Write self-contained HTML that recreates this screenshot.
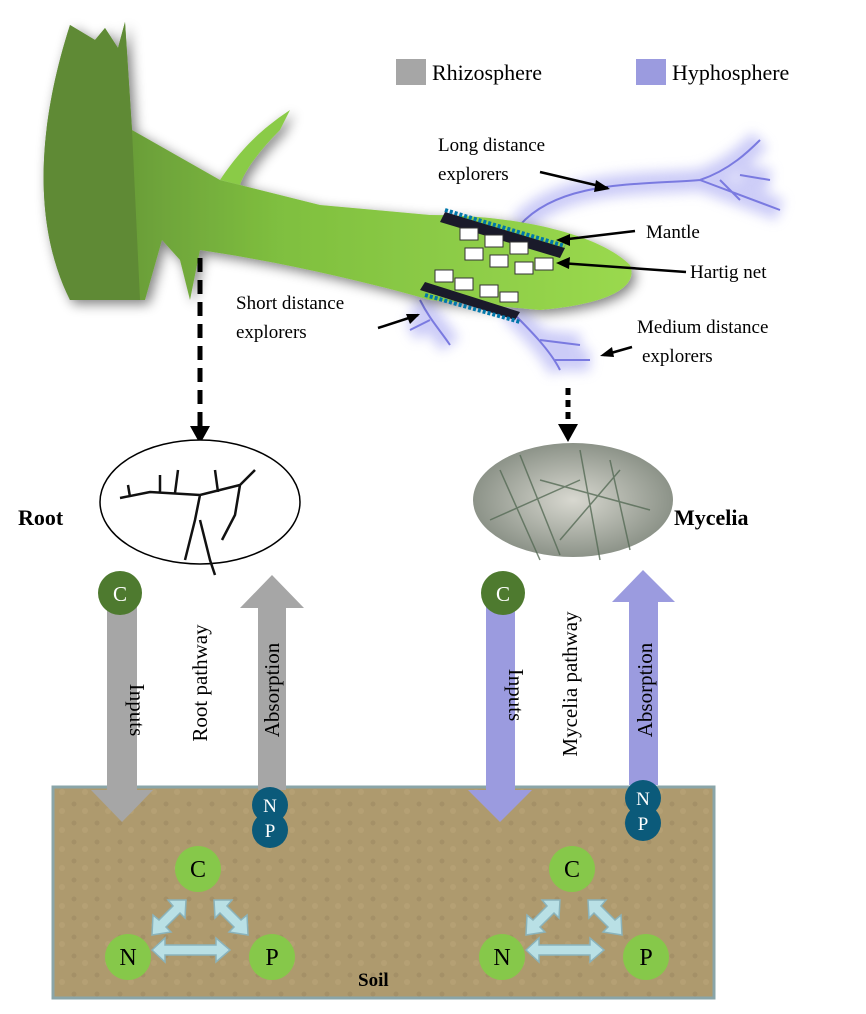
<!DOCTYPE html>
<html><head><meta charset="utf-8"><style>
html,body{margin:0;padding:0;background:#fff;}
svg{display:block}
text{font-family:"Liberation Serif",serif;}
</style></head><body>
<svg width="866" height="1014" viewBox="0 0 866 1014" xmlns="http://www.w3.org/2000/svg">
<defs>
<filter id="sh" x="-20%" y="-20%" width="140%" height="140%"><feGaussianBlur in="SourceAlpha" stdDeviation="6"/><feOffset dx="4" dy="4"/><feComponentTransfer><feFuncA type="linear" slope="0.5"/></feComponentTransfer><feMerge><feMergeNode/><feMergeNode in="SourceGraphic"/></feMerge></filter>
<filter id="glow" x="-20%" y="-20%" width="140%" height="140%"><feGaussianBlur stdDeviation="6"/></filter>
<linearGradient id="rg" x1="0" y1="0" x2="1" y2="0"><stop offset="0" stop-color="#5e8a35"/><stop offset="0.4" stop-color="#7fbf3f"/><stop offset="1" stop-color="#9ad94e"/></linearGradient>
<radialGradient id="my" cx="0.5" cy="0.5" r="0.6"><stop offset="0" stop-color="#d8d8d0"/><stop offset="1" stop-color="#7d857a"/></radialGradient>
<pattern id="soil" width="23" height="19" patternUnits="userSpaceOnUse"><rect width="23" height="19" fill="#ae9a6e"/><circle cx="5" cy="6" r="2.5" fill="#9a8660" opacity=".5"/><circle cx="16" cy="13" r="3" fill="#bba67a" opacity=".5"/></pattern>
</defs>

<!-- Legend -->
<rect x="396" y="59" width="30" height="26" fill="#a6a6a6"/>
<text x="432" y="80" font-size="22">Rhizosphere</text>
<rect x="636" y="59" width="30" height="26" fill="#9b9bdf"/>
<text x="672" y="80" font-size="22">Hyphosphere</text>

<!-- hyphae glow -->
<g stroke="#9a9af0" stroke-width="22" fill="none" opacity="0.5" filter="url(#glow)">
<path d="M520 225 C560 180 640 185 700 180 C730 170 750 150 760 140 M700 180 L780 210 M740 175 L770 180"/>
<path d="M420 300 C430 320 440 330 450 345 M430 320 L410 330"/>
<path d="M510 310 C530 330 550 350 560 370 M540 340 L580 345 M555 360 L590 360"/>
</g>
<g stroke="#7a7ae0" stroke-width="2" fill="none">
<path d="M520 225 C560 180 640 185 700 180 C730 170 750 150 760 140 M700 180 L780 210 M740 175 L770 180 M720 180 L740 200"/>
<path d="M420 300 C430 320 440 330 450 345 M430 320 L410 330"/>
<path d="M510 310 C530 330 550 350 560 370 M540 340 L580 345 M555 360 L590 360"/>
</g>

<!-- plant -->
<g filter="url(#sh)">
<path d="M70 25 L95 40 L105 28 L118 48 L125 22 L132 130 L220 180 L320 205 L430 215 C520 215 600 235 630 265 C640 290 600 305 540 310 L430 300 C360 280 280 262 200 250 L190 300 L180 260 L162 240 L145 300 L70 300 C40 240 30 150 70 25 Z" fill="url(#rg)"/>
<path d="M70 25 L95 40 L105 28 L118 48 L125 22 L132 130 L140 300 L70 300 C40 240 30 150 70 25 Z" fill="#5e8a35"/>
<path d="M220 180 C240 150 260 130 290 110 L280 130 C260 150 245 170 240 185 Z" fill="#8acb47"/>
</g>

<!-- mantle / hartig -->
<g>
<path d="M445 212 L565 248 L560 258 L440 222 Z" fill="#1a1a2a"/>
<path d="M425 282 L520 312 L515 320 L420 290 Z" fill="#1a1a2a"/>
<g fill="#fff" stroke="#333" stroke-width="1">
<rect x="460" y="228" width="18" height="12"/><rect x="485" y="235" width="18" height="12"/><rect x="510" y="242" width="18" height="12"/><rect x="465" y="248" width="18" height="12"/><rect x="490" y="255" width="18" height="12"/><rect x="515" y="262" width="18" height="12"/><rect x="535" y="258" width="18" height="12"/>
<rect x="435" y="270" width="18" height="12"/><rect x="455" y="278" width="18" height="12"/><rect x="480" y="285" width="18" height="12"/><rect x="500" y="292" width="18" height="10"/>
</g>
<g stroke="#0077aa" stroke-width="4" stroke-dasharray="3 2"><path d="M445 210 L565 246"/><path d="M425 295 L520 322"/></g>
</g>

<!-- labels top -->
<g font-size="19">
<text x="438" y="151">Long distance</text><text x="438" y="180">explorers</text>
<text x="646" y="238">Mantle</text>
<text x="690" y="278">Hartig net</text>
<text x="236" y="309">Short distance</text><text x="236" y="338">explorers</text>
<text x="637" y="333">Medium distance</text><text x="642" y="362">explorers</text>
</g>
<g stroke="#000" stroke-width="2.5" fill="none">
<path d="M540 172 L608 188"/><path d="M635 231 L560 240"/><path d="M686 272 L560 263"/><path d="M378 328 L418 315"/><path d="M632 347 L604 355"/>
</g>
<g fill="#000">
<path d="M610 189 L596 180 L594 192 Z"/><path d="M556 240 L570 234 L570 246 Z"/><path d="M556 263 L570 257 L569 269 Z"/><path d="M420 314 L406 314 L410 324 Z"/><path d="M600 356 L612 347 L614 357 Z"/>
</g>

<!-- dashed arrows -->
<path d="M200 258 L200 428" stroke="#000" stroke-width="5" stroke-dasharray="14 8" fill="none"/>
<path d="M190 426 L210 426 L200 444 Z" fill="#000"/>
<path d="M568 388 L568 426" stroke="#000" stroke-width="5" stroke-dasharray="7 5" fill="none"/>
<path d="M558 424 L578 424 L568 442 Z" fill="#000"/>

<!-- ovals -->
<ellipse cx="200" cy="502" rx="100" ry="62" fill="#fff" stroke="#000" stroke-width="1.5"/>
<g stroke="#111" stroke-width="2.5" fill="none"><path d="M120 498 L150 492 L200 495 L240 485 L255 470 M200 495 L195 520 L185 560 M200 520 L210 560 L215 575 M240 485 L235 515 L222 540 M160 492 L160 475 M175 493 L178 470 M130 497 L128 485 M218 492 L215 470"/></g>
<text x="18" y="525" font-size="22" font-weight="bold">Root</text>
<ellipse cx="573" cy="500" rx="100" ry="57" fill="url(#my)"/>
<g stroke="#556a55" stroke-width="1.5" fill="none" opacity=".8"><path d="M500 470 L540 560 M520 455 L560 555 M580 450 L600 560 M610 460 L630 550 M540 480 L650 510 M490 520 L580 480 M620 470 L560 540"/></g>
<text x="674" y="525" font-size="22" font-weight="bold" font-family="Liberation Serif">Mycelia</text>

<!-- soil -->
<rect x="53" y="787" width="661" height="211" fill="url(#soil)" stroke="#8aa5a8" stroke-width="3"/>

<!-- arrows -->
<path d="M107 600 L137 600 L137 790 L153 790 L122 822 L91 790 L107 790 Z" fill="#a6a6a6"/>
<path d="M258 608 L240 608 L272 575 L304 608 L286 608 L286 790 L258 790 Z" fill="#a6a6a6"/>
<path d="M486 600 L515 600 L515 790 L532 790 L500 822 L468 790 L486 790 Z" fill="#9b9bdf"/>
<path d="M629 602 L612 602 L643 570 L675 602 L658 602 L658 785 L629 785 Z" fill="#9b9bdf"/>

<g font-size="21" fill="#000">
<text transform="translate(130,710) rotate(90)" text-anchor="middle">Inputs</text>
<text transform="translate(207,683) rotate(-90)" text-anchor="middle">Root pathway</text>
<text transform="translate(279,690) rotate(-90)" text-anchor="middle">Absorption</text>
<text transform="translate(509,695) rotate(90)" text-anchor="middle">Inputs</text>
<text transform="translate(577,684) rotate(-90)" text-anchor="middle">Mycelia pathway</text>
<text transform="translate(652,690) rotate(-90)" text-anchor="middle">Absorption</text>
</g>

<g font-size="21" fill="#fff" text-anchor="middle">
<circle cx="120" cy="593" r="22" fill="#4e7a2f"/><text x="120" y="601">C</text>
<circle cx="503" cy="593" r="22" fill="#4e7a2f"/><text x="503" y="601">C</text>
<circle cx="270" cy="830" r="18" fill="#0b5a7a"/><circle cx="270" cy="805" r="18" fill="#0b5a7a"/>
<text x="270" y="812" font-size="19">N</text><text x="270" y="837" font-size="19">P</text>
<circle cx="643" cy="823" r="18" fill="#0b5a7a"/><circle cx="643" cy="798" r="18" fill="#0b5a7a"/>
<text x="643" y="805" font-size="19">N</text><text x="643" y="830" font-size="19">P</text>
</g>

<!-- soil triangles -->
<g id="tri">
<g fill="#b9e0e5" stroke="#8ab3bb" stroke-width="1.5">
<path d="M152 950 L165 938 L165 945 L216 945 L216 938 L230 950 L216 962 L216 955 L165 955 L165 962 Z"/>
<path d="M152 935 L153 915 L159 920 L173 906 L168 900 L186 900 L185 918 L180 913 L166 927 L171 932 Z"/>
<path d="M248 935 L247 915 L241 920 L227 906 L232 900 L214 900 L215 918 L220 913 L234 927 L229 932 Z"/>
</g>
<g fill="#86c84a"><circle cx="198" cy="869" r="23"/><circle cx="128" cy="957" r="23"/><circle cx="272" cy="957" r="23"/></g>
<g font-size="24" text-anchor="middle" fill="#000"><text x="198" y="877">C</text><text x="128" y="965">N</text><text x="272" y="965">P</text></g>
</g>
<use href="#tri" transform="translate(374,0)"/>
<text x="358" y="986" font-size="19" font-weight="bold">Soil</text>
</svg>
</body></html>
